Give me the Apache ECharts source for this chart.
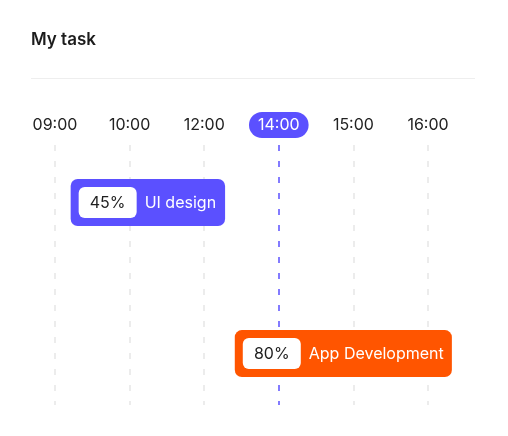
<!DOCTYPE html>
<html>
<head>
<meta charset="utf-8">
<script src="https://cdn.jsdelivr.net/npm/echarts@6/dist/echarts.min.js"></script>
<style>
html,body{margin:0;padding:0;background:#fff;}
#chart{width:508px;height:436px;}
</style>
</head>
<body>
<div id="chart"></div>
<script>
// ---- data ----
var timeLabels = ['09:00', '10:00', '12:00', '14:00', '15:00', '16:00'];
var currentIndex = 3; // 14:00 highlighted
var taskNames = ['UI design', 'App Development'];
var taskPercents = [45, 80];
var taskStarts = [0.21, 2.41];   // position on time track (tick index units)
var taskEnds = [2.28, 5.32];
var taskLanes = [1, 3];
var taskColors = ['#5B50FF', '#FF5500'];

var FONT = 'Inter, "Noto Sans", sans-serif';
var chart = echarts.init(document.getElementById('chart'), null, {renderer: 'canvas'});

var data = taskNames.map(function (n, i) {
  return [taskStarts[i], taskEnds[i], taskLanes[i], taskPercents[i], i];
});

var splitColors = timeLabels.map(function (_, i) {
  return i === currentIndex ? '#5B50FF' : '#E6E6E6';
});

chart.setOption({
  backgroundColor: '#ffffff',
  animation: false,
  title: {
    text: 'My task',
    left: 26,
    top: 26,
    textStyle: {fontFamily: FONT, fontSize: 17, fontWeight: 600, color: '#1c1c1c'}
  },
  graphic: [{
    type: 'line',
    shape: {x1: 31, y1: 78.5, x2: 475, y2: 78.5},
    style: {stroke: '#EEEEEE', lineWidth: 1}
  }],
  grid: {left: 55, right: 80, top: 145, bottom: 31},
  xAxis: {
    type: 'value',
    position: 'top',
    min: 0,
    max: timeLabels.length - 1,
    interval: 1,
    axisLine: {show: false},
    axisTick: {show: false},
    axisLabel: {
      margin: 7,
      formatter: function (v) {
        var i = Math.round(v);
        return i === currentIndex ? '{hi|' + timeLabels[i] + '}' : '{n|' + timeLabels[i] + '}';
      },
      rich: {
        n: {fontFamily: FONT, fontSize: 16, color: '#222222', padding: [5, 9, 5, 9]},
        hi: {fontFamily: FONT, fontSize: 16, color: '#ffffff', backgroundColor: '#5B50FF',
             borderRadius: 13, padding: [5, 9, 5, 9]}
      }
    },
    splitLine: {
      show: true,
      lineStyle: {color: splitColors, width: 1.5, type: [6, 10]}
    }
  },
  yAxis: {
    type: 'value',
    inverse: true,
    min: 0.24,
    max: 3.68,
    show: false,
    splitLine: {show: false}
  },
  series: [{
    type: 'custom',
    clip: false,
    data: data,
    encode: {x: [0, 1], y: 2},
    renderItem: function (params, api) {
      var p0 = api.coord([api.value(0), api.value(2)]);
      var p1 = api.coord([api.value(1), api.value(2)]);
      var idx = api.value(4);
      var h = 47;
      var x = p0[0], y = p0[1] - h / 2, w = p1[0] - p0[0];
      return {
        type: 'group',
        children: [
          {type: 'rect', shape: {x: x, y: y, width: w, height: h, r: 7},
           style: {fill: taskColors[idx]}},
          {type: 'rect', shape: {x: x + 8, y: y + 8, width: 58, height: h - 16, r: 6},
           style: {fill: '#ffffff'}},
          {type: 'text', x: x + 37, y: p0[1] + 1,
           style: {text: api.value(3) + '%', fill: '#1e1e1e', font: '16px ' + FONT,
                   textAlign: 'center', textVerticalAlign: 'middle'}},
          {type: 'text', x: x + 74, y: p0[1] + 1,
           style: {text: taskNames[idx], fill: '#ffffff', font: '16px ' + FONT,
                   textAlign: 'left', textVerticalAlign: 'middle'}}
        ]
      };
    }
  }]
});
</script>
</body>
</html>
